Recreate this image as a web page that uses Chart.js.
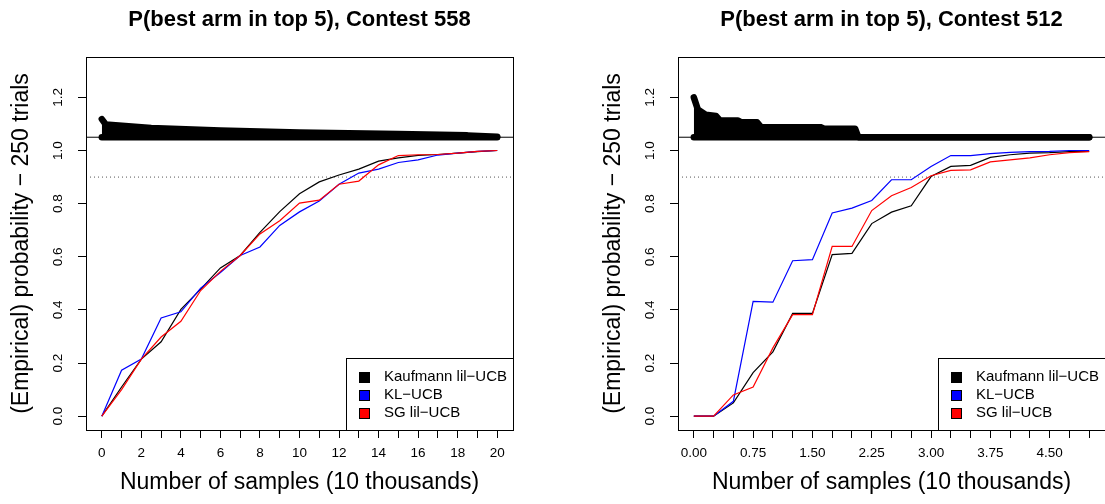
<!DOCTYPE html>
<html>
<head>
<meta charset="utf-8">
<script src="https://cdn.jsdelivr.net/npm/chart.js@4.4.1/dist/chart.umd.min.js"></script>
<style>
  html, body { margin:0; padding:0; background:#fff; overflow:hidden; width:1105px; height:504px; }
  .panel { position:absolute; top:0; width:599px; height:504px; }
</style>
</head>
<body>
<div class="panel" style="left:0"><canvas id="c558" width="599" height="504"></canvas></div>
<div class="panel" style="left:592px"><canvas id="c512" width="599" height="504"></canvas></div>
<script>
// Contest 558 -- samples in units of 10 thousand
const samples558 = [0,1,2,3,4,5,6,7,8,9,10,11,12,13,14,15,16,17,18,19,20];
const kauf558 = [0, 0.11, 0.215, 0.28, 0.402, 0.478, 0.558, 0.605, 0.692, 0.77, 0.837, 0.882, 0.908, 0.93, 0.96, 0.972, 0.982, 0.985, 0.99, 0.996, 1.0];
const kl558   = [0, 0.173, 0.215, 0.37, 0.393, 0.482, 0.541, 0.605, 0.637, 0.718, 0.769, 0.81, 0.873, 0.915, 0.93, 0.955, 0.965, 0.983, 0.99, 0.997, 1.0];
const sg558   = [0, 0.10, 0.215, 0.298, 0.357, 0.473, 0.545, 0.605, 0.686, 0.736, 0.802, 0.813, 0.873, 0.885, 0.946, 0.981, 0.984, 0.985, 0.99, 0.997, 1.0];
// thick black band above the curves (upper outline)
const blobX558   = [0, 0.2, 2.5, 6, 10, 15, 18.5, 20];
const blobTop558 = [1.118, 1.098, 1.085, 1.075, 1.068, 1.062, 1.057, 1.052];
const xTicks558 = [0,1,2,3,4,5,6,7,8,9,10,11,12,13,14,15,16,17,18,19,20];
const xLabels558 = ['0','2','4','6','8','10','12','14','16','18','20'];

// Contest 512
const samples512 = [0,0.25,0.5,0.75,1,1.25,1.5,1.75,2,2.25,2.5,2.75,3,3.25,3.5,3.75,4,4.25,4.5,4.75,5];
const kauf512 = [0, 0, 0.05, 0.164, 0.242, 0.387, 0.387, 0.608, 0.613, 0.725, 0.768, 0.792, 0.902, 0.94, 0.944, 0.974, 0.984, 0.99, 0.992, 0.996, 0.997];
const kl512   = [0, 0, 0.056, 0.432, 0.429, 0.585, 0.589, 0.765, 0.783, 0.812, 0.89, 0.89, 0.94, 0.981, 0.981, 0.988, 0.993, 0.996, 0.997, 1.0, 1.0];
const sg512   = [0, 0, 0.08, 0.11, 0.257, 0.382, 0.382, 0.639, 0.639, 0.774, 0.83, 0.861, 0.905, 0.925, 0.927, 0.957, 0.965, 0.972, 0.984, 0.992, 0.996];
const blobX512   = [0, 0.05, 0.15, 0.28, 0.33, 0.56, 0.60, 0.80, 0.85, 1.60, 1.65, 2.04, 2.08, 5.0];
const blobTop512 = [1.200, 1.155, 1.135, 1.130, 1.113, 1.113, 1.106, 1.106, 1.088, 1.088, 1.082, 1.082, 1.050, 1.050];
const xTicks512 = [0,0.25,0.5,0.75,1,1.25,1.5,1.75,2,2.25,2.5,2.75,3,3.25,3.5,3.75,4,4.25,4.5,4.75,5];
const xLabels512 = ['0.00','0.75','1.50','2.25','3.00','3.75','4.50'];

const yTicks = [0, 0.2, 0.4, 0.6, 0.8, 1.0, 1.2];
const seriesNames = ['Kaufmann lil\u2212UCB', 'KL\u2212UCB', 'SG lil\u2212UCB'];
const seriesColors = ['#000000', '#0000ff', '#ff0000'];
const bandLevel = 1.05;
const targetLevel = 0.9;

const FONT = '"Liberation Sans", Arial, Helvetica, sans-serif';
Chart.defaults.font.family = FONT;
Chart.defaults.color = '#000';

const pts = (xs, ys) => xs.map((x, i) => ({ x: x, y: ys[i] }));

// plot frame + R style legend in the bottom right corner
const frameAndKey = {
  id: 'frameAndKey',
  afterDraw(chart) {
    const { ctx, chartArea: a } = chart;
    ctx.save();
    ctx.strokeStyle = '#000';
    ctx.lineWidth = 1;
    ctx.strokeRect(Math.round(a.left) + 0.5, Math.round(a.top) + 0.5, Math.round(a.right - a.left), Math.round(a.bottom - a.top));
    const items = chart.data.datasets.filter(d => d.label);
    const w = 167, h = 72;
    const lx = Math.round(a.right - w), ly = Math.round(a.bottom - h);
    ctx.fillStyle = '#fff';
    ctx.fillRect(lx, ly, w, h);
    ctx.strokeRect(lx + 0.5, ly + 0.5, w, h);
    ctx.font = '15px ' + FONT;
    ctx.textBaseline = 'middle';
    items.forEach((d, i) => {
      const cy = ly + 19 + i * 18;
      ctx.fillStyle = d.borderColor;
      ctx.fillRect(lx + 13, Math.round(cy - 5), 10, 10);
      ctx.strokeRect(lx + 13.5, Math.round(cy - 5) + 0.5, 10, 10);
      ctx.fillStyle = '#000';
      ctx.fillText(d.label, lx + 38, cy);
    });
    ctx.restore();
  }
};

function makeChart(id, title, xs, kauf, kl, sg, blobX, blobTop, xTicks, xLabels, xMin, xMax, digits) {
  const series = [kauf, kl, sg].map((ys, i) => ({
    label: seriesNames[i],
    data: pts(xs, ys),
    borderColor: seriesColors[i],
    borderWidth: 1.2,
    pointRadius: 0,
    order: 3 - i
  }));
  return new Chart(document.getElementById(id), {
    type: 'line',
    data: {
      datasets: [
        { data: pts(blobX, blobTop), borderColor: '#000', backgroundColor: '#000', borderWidth: 6.5,
          borderCapStyle: 'round', borderJoinStyle: 'round', fill: '+1', pointRadius: 0, order: 6 },
        { data: blobX.map(x => ({ x: x, y: bandLevel })), borderColor: '#000', borderWidth: 6.5,
          borderCapStyle: 'round', fill: false, pointRadius: 0, order: 6 },
        { data: [{ x: xMin, y: bandLevel }, { x: xMax, y: bandLevel }], borderColor: '#000', borderWidth: 1, pointRadius: 0, order: 5 },
        { data: [{ x: xMin, y: targetLevel }, { x: xMax, y: targetLevel }], borderColor: '#555', borderWidth: 1,
          borderDash: [1, 3], pointRadius: 0, order: 5 },
        ...series
      ]
    },
    options: {
      responsive: false,
      animation: false,
      layout: { padding: { top: 0, left: 0, right: 86, bottom: 0 } },
      plugins: {
        legend: { display: false },
        tooltip: { enabled: false },
        title: { display: true, text: title, fullSize: false, color: '#000',
          font: { size: 22, weight: 'bold' }, padding: { top: 7, bottom: 23.6 } }
      },
      scales: {
        x: {
          type: 'linear', min: xMin, max: xMax,
          afterBuildTicks: s => { s.ticks = xTicks.map(v => ({ value: v })); },
          afterFit: s => { s.height = 74; },
          grid: { drawOnChartArea: false, drawTicks: true, tickLength: 8, color: '#000' },
          border: { display: false },
          ticks: { autoSkip: false, minRotation: 0, maxRotation: 0, padding: 7, color: '#000', font: { size: 13.5 },
            callback: v => { const t = v.toFixed(digits); return xLabels.includes(t) ? t : ''; } },
          title: { display: true, text: 'Number of samples (10 thousands)', color: '#000', font: { size: 23 },
            padding: { top: 0, bottom: 8 } }
        },
        y: {
          type: 'linear', min: -0.052, max: 1.352,
          afterBuildTicks: s => { s.ticks = yTicks.map(v => ({ value: v })); },
          afterFit: s => { s.width = 86; },
          grid: { drawOnChartArea: false, drawTicks: true, tickLength: 8, color: '#000' },
          border: { display: false },
          ticks: { autoSkip: false, minRotation: 90, maxRotation: 90, crossAlign: 'center', padding: 10,
            color: '#000', font: { size: 13.5 }, callback: v => v.toFixed(1) },
          title: { display: true, text: '(Empirical) probability \u2212 250 trials', color: '#000', font: { size: 23 },
            padding: { top: 8, bottom: 0 } }
        }
      }
    },
    plugins: [frameAndKey]
  });
}

makeChart('c558', 'P(best arm in top 5), Contest 558', samples558, kauf558, kl558, sg558,
  blobX558, blobTop558, xTicks558, xLabels558, -0.8, 20.8, 0);
makeChart('c512', 'P(best arm in top 5), Contest 512', samples512, kauf512, kl512, sg512,
  blobX512, blobTop512, xTicks512, xLabels512, -0.2, 5.2, 2);
</script>
</body>
</html>
